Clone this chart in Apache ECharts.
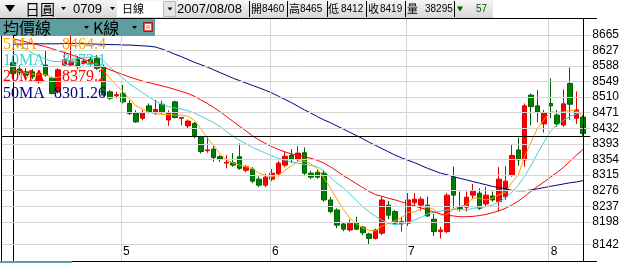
<!DOCTYPE html>
<html><head><meta charset="utf-8">
<script src="https://cdn.jsdelivr.net/npm/echarts@6/dist/echarts.min.js"></script>
<style>html,body{margin:0;padding:0;background:#fff;overflow:hidden}#c{width:622px;height:263px}</style>
</head><body><div id="c"></div>
<script>
// ---- data ----
const opens  = [8596,8580,8573,8573,8548,8590,8557,8523,8590,8590,8604,8594,8604,8607,8586,8523,8513,8519,8494,8471,8457,8488,8471,8492,8453,8498,8457,8438,8444,8411,8376,8380,8361,8345,8346,8361,8327,8330,8305,8290,8305,8318,8340,8365,8355,8371,8320,8322,8320,8253,8228,8193,8178,8195,8185,8168,8157,8170,8240,8224,8193,8195,8246,8240,8240,8205,8174,8174,8310,8234,8235,8265,8270,8243,8263,8249,8261,8315,8378,8353,8515,8488,8443,8494,8465,8440,8544,8457,8460];
const closes = [8569,8572,8565,8561,8569,8565,8519,8578,8603,8600,8586,8600,8593,8582,8515,8507,8516,8498,8469,8448,8471,8473,8479,8471,8471,8459,8459,8450,8413,8374,8378,8359,8355,8347,8340,8332,8336,8300,8290,8310,8320,8345,8362,8355,8370,8320,8310,8310,8253,8224,8190,8180,8195,8180,8171,8157,8178,8253,8215,8195,8199,8253,8255,8255,8213,8174,8178,8265,8265,8231,8260,8275,8232,8265,8253,8305,8300,8364,8353,8488,8486,8472,8471,8488,8443,8493,8492,8478,8419];
const lows   = [8563,8565,8557,8555,8544,8561,8517,8519,8586,8586,8580,8590,8588,8578,8511,8503,8507,8494,8465,8446,8452,8469,8465,8468,8438,8457,8440,8432,8407,8369,8371,8349,8348,8332,8336,8328,8322,8295,8285,8285,8300,8312,8335,8345,8350,8315,8305,8306,8249,8220,8182,8175,8174,8178,8165,8142,8154,8165,8205,8190,8174,8188,8236,8226,8211,8163,8157,8170,8232,8224,8224,8255,8228,8236,8249,8224,8253,8311,8338,8336,8440,8447,8421,8457,8436,8436,8453,8443,8412];
const highs  = [8603,8590,8582,8580,8577,8627,8561,8582,8623,8665,8612,8606,8610,8615,8590,8527,8523,8540,8502,8477,8477,8494,8503,8501,8477,8501,8459,8454,8448,8413,8411,8390,8365,8365,8370,8394,8340,8335,8312,8318,8330,8350,8375,8380,8388,8384,8326,8328,8328,8260,8232,8198,8205,8211,8188,8171,8181,8261,8250,8228,8211,8270,8270,8261,8261,8218,8186,8270,8336,8274,8274,8293,8282,8286,8274,8335,8338,8390,8409,8494,8519,8528,8478,8557,8478,8529,8584,8524,8465];
const ma5  = [8578,8574,8570,8567,8567,8566,8558,8559,8567,8573,8577,8593,8596,8593,8575,8557,8539,8524,8505,8488,8480,8472,8468,8467,8466,8465,8465,8462,8452,8431,8408,8388,8368,8353,8345,8340,8336,8331,8320,8314,8311,8315,8327,8338,8350,8350,8343,8331,8308,8283,8255,8229,8208,8194,8183,8177,8176,8188,8195,8201,8208,8222,8223,8231,8235,8229,8215,8217,8229,8238,8240,8258,8257,8253,8257,8266,8271,8297,8315,8362,8398,8433,8454,8473,8472,8473,8477,8475,8464.4];
const ma10 = [8650,8640,8630,8620,8612,8605,8600,8598,8600,8603,8606,8608,8610,8612,8600,8584,8570,8557,8543,8532,8521,8510,8500,8492,8486,8483,8480,8476,8470,8462,8454,8446,8436,8423,8412,8402,8393,8384,8377,8370,8363,8357,8352,8348,8345,8342,8339,8336,8325,8310,8295,8283,8268,8252,8236,8223,8212,8202,8195,8191,8193,8197,8203,8210,8218,8222,8225,8228,8230,8228,8228,8232,8234,8236,8240,8248,8258,8272,8290,8312,8340,8370,8398,8425,8440,8452,8462,8468,8472.1];
const ma20 = [8655,8652,8648,8644,8640,8636,8631,8626,8621,8616,8610,8604,8598,8591,8585,8578,8572,8566,8560,8555,8550,8546,8542,8538,8534,8529,8524,8519,8512,8503,8494,8484,8473,8461,8449,8437,8425,8413,8403,8394,8386,8379,8373,8368,8365,8361,8357,8352,8345,8336,8325,8314,8304,8294,8284,8274,8266,8262,8257,8253,8248,8243,8238,8233,8228,8223,8218,8215,8213,8211,8211,8212,8214,8217,8221,8226,8232,8240,8250,8262,8275,8287,8298,8310,8322,8335,8350,8365,8379.2];
const ma50 = [8642,8642,8643,8643,8643,8643,8643,8643,8644,8644,8644,8643,8643,8642,8642,8641,8641,8640,8640,8639,8638,8637,8635,8630,8624,8617,8611,8604,8597,8591,8585,8578,8571,8564,8557,8551,8545,8539,8533,8527,8520,8512,8504,8496,8487,8478,8470,8461,8453,8446,8438,8430,8422,8414,8406,8397,8389,8381,8373,8365,8358,8352,8346,8339,8332,8326,8320,8316,8311,8307,8303,8299,8295,8291,8287,8284,8281,8277,8276,8276,8278,8281,8284,8287,8290,8293,8296,8298,8301.26];
const yTicks = [8665,8627,8588,8549,8510,8471,8432,8393,8354,8315,8276,8237,8198,8142];
const monthStarts = [17,40,61,83];
const monthLabels = ['5','6','7','8'];
const maNames = ['5MA','10MA','20MA','50MA'];
const maLast = ['8464.4','8472.1','8379.2','8301.26'];
const headerInfo = {product:'日圓', contract:'0709', period:'日線', date:'2007/08/08',
  open:'8460', high:'8465', low:'8412', close:'8419', vol:'38295', chg:'57'};
const crossX = 88, crossY = 8412;

// ---- styles ----
const maColors = ['#ffa000','#40d0d0','#ff0000','#000080'];
const SANS = "'Liberation Sans', Arial, sans-serif";
const NARROW = "'Liberation Sans Narrow', 'Liberation Sans', sans-serif";
const CJK = "'Noto Sans CJK TC', sans-serif";
const SERIF = "'Liberation Serif', 'DejaVu Serif', serif";

const chart = echarts.init(document.getElementById('c'), null, {renderer:'canvas'});
const candle = opens.map((o,i)=>[i,o,closes[i],lows[i],highs[i]]);
const maSeries = [ma5,ma10,ma20,ma50].map((arr,k)=>({
  type:'line', name:maNames[k], data:arr.map((v,i)=>[i,v]), showSymbol:false, symbol:'none',
  lineStyle:{width:1,color:maColors[k]}, z:4, silent:true
}));

function tri(x,y,w,h,fill){return {type:'polygon',shape:{points:[[x,y],[x+w,y],[x+w/2,y+h]]},style:{fill:fill||'#000'},z:100};}
function txt(s,x,y,font,fill,align){return {type:'text',x:x,y:y,style:{text:s,font:font,fill:fill||'#000',align:align||'left',verticalAlign:'middle'},z:101};}
function vline(x,y1,y2,c){return {type:'line',shape:{x1:x,y1:y1,x2:x,y2:y2},style:{stroke:c||'#000',lineWidth:1},z:100};}
function hline(y,x1,x2,c){return {type:'line',shape:{x1:x1,y1:y,x2:x2,y2:y},style:{stroke:c||'#000',lineWidth:1},z:100};}

const graphics = [
  {type:'rect',shape:{x:0,y:0,width:493,height:18},style:{fill:new echarts.graphic.LinearGradient(0,0,0,1,[{offset:0,color:'#f6f6f6'},{offset:1,color:'#d6d6d6'}])},z:99},
  tri(5,5,10,7),
  txt(headerInfo.product,25,9,'15px '+CJK),
  tri(61,7,5,3),
  txt(headerInfo.contract,73,9.5,'13px '+SANS),
  tri(110,7,5,3),
  {type:'rect',shape:{x:117,y:1,width:46,height:16},style:{fill:'#fff'},z:100},
  txt(headerInfo.period,122,9,'11px '+CJK),
  {type:'rect',shape:{x:163.5,y:1.5,width:12,height:15},style:{fill:'#e4e4e4',stroke:'#b8b8b8'},z:100},
  tri(167.5,7.5,5,3),
  txt(headerInfo.date,177,9.5,'13px '+SANS),
  vline(249.5,1,17),vline(287.5,1,17),vline(327.5,1,17),vline(366.5,1,17),vline(405.5,1,17),vline(454.5,1,17),
  txt('開',251,9,'11px '+CJK), txt(headerInfo.open,262,9.5,'10px '+NARROW),
  txt('高',289,9,'11px '+CJK), txt(headerInfo.high,300,9.5,'10px '+NARROW),
  txt('低',328,9,'11px '+CJK), txt(headerInfo.low,341,9.5,'10px '+NARROW),
  txt('收',368,9,'11px '+CJK), txt(headerInfo.close,380,9.5,'10px '+NARROW),
  txt('量',407,9,'11px '+CJK), txt(headerInfo.vol,425,9.5,'10px '+NARROW),
  tri(457,6.5,6,5,'#006000'),
  txt(headerInfo.chg,476,9.5,'10px '+NARROW,'#006000'),
  // frame
  hline(18.5,0,597), vline(1.5,19,262), hline(261.5,0,597),
  {type:'rect',shape:{x:0,y:261,width:72,height:2},style:{fill:'#5f9ea0'},z:102},
  // teal bar
  {type:'rect',shape:{x:0,y:19,width:155,height:17},style:{fill:'#5f9ea0'},z:100},
  txt('均價線',3,27.5,'16px '+CJK),
  tri(84,26,5,3),
  txt('K線',93,27.5,'16px '+CJK),
  tri(132,26,5,3),
  {type:'rect',shape:{x:143.5,y:22.5,width:9,height:9},style:{fill:'#e85050',stroke:'#a02020'},z:101},
  {type:'rect',shape:{x:145.5,y:24.5,width:5,height:5},style:{fill:'#f4b0b0',stroke:'#fff'},z:102}
];
const legendY = [44.5,61,77,93.5];
maNames.forEach((n,k)=>{
  graphics.push(txt(n,3,legendY[k],'16px '+SERIF,maColors[k]));
  graphics.push(txt(maLast[k],106,legendY[k],'16px '+SERIF,maColors[k],'right'));
});

const option = {
  animation:false,
  backgroundColor:'#fff',
  grid:{left:2,right:26,top:19,bottom:2,containLabel:false},
  xAxis:{type:'value',min:-1.68,max:89.12,
    axisLine:{show:true,lineStyle:{color:'#000'}},axisTick:{show:false},splitLine:{show:false},
    axisLabel:{inside:true,margin:3,customValues:monthStarts,align:'left',
      formatter:v=>monthLabels[monthStarts.indexOf(Math.round(v))]||'',
      fontSize:12,fontFamily:NARROW,color:'#000'}},
  yAxis:{type:'value',position:'right',min:8100.5,max:8705,scale:true,
    axisLine:{show:true,lineStyle:{color:'#000'}},axisTick:{show:false},splitLine:{show:false},
    axisLabel:{customValues:yTicks,margin:2,fontSize:12,fontFamily:NARROW,color:'#000',
      formatter:v=>String(Math.round(v))}},
  graphic:graphics,
  series:[
    {type:'line',data:[[0,null]],silent:true,z:0,symbol:'none',
     markLine:{silent:true,symbol:['none','none'],label:{show:false},animation:false,
       lineStyle:{color:'#d4d4d4',width:1,type:'solid'},
       data:yTicks.map(v=>({yAxis:v})).concat(monthStarts.map(m=>({xAxis:m-0.35})))}},
    {type:'candlestick',data:candle,encode:{x:0,y:[1,2,3,4]},barWidth:5,z:2,silent:true,
     itemStyle:{color:'#ff0000',color0:'#008000',borderColor:'#e00000',borderColor0:'#006000',borderWidth:1}},
    ...maSeries,
    {type:'line',data:[[0,null]],silent:true,z:5,symbol:'none',
     markLine:{silent:true,symbol:['none','none'],label:{show:false},animation:false,
       lineStyle:{color:'#000',width:1,type:'solid'},
       data:[{yAxis:crossY},{xAxis:crossX}]}}
  ]
};
chart.setOption(option);
</script></body></html>
